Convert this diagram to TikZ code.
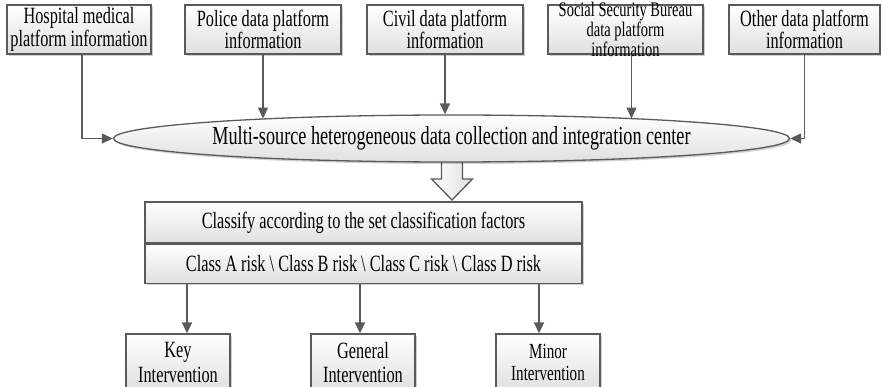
\documentclass[tikz,border=0pt]{standalone}
\usepackage{fontspec}
\usepackage{tikz}
\usetikzlibrary{arrows.meta, shapes.geometric, positioning, shadows}
\newfontfamily\diagfont[FakeStretch=0.7]{Liberation Serif}
\definecolor{boxline}{RGB}{90, 90, 90}
\definecolor{boxshade}{RGB}{224, 224, 224}

\begin{document}
\begin{tikzpicture}[x=1pt, y=1pt,
    infobox/.style={draw=boxline, line width=1.3pt, top color=white, bottom color=boxshade,
      drop shadow={shadow xshift=2pt, shadow yshift=-2pt, fill=black, opacity=0.18},
      align=center, inner sep=2pt, font=\diagfont\fontsize{23.3}{20}\selectfont},
    flow/.style={draw=boxline, line width=1.5pt, -{Triangle[length=11pt, width=10pt]}}]
  \clip (0,0) rectangle (881,-387);
  % data platforms
  \node[infobox, minimum width=144, minimum height=49] (hosp) at (79,-29.5) {Hospital medical\\platform information};
  \node[infobox, minimum width=156, minimum height=49] (police) at (263,-29.5) {Police data platform\\information};
  \node[infobox, minimum width=156, minimum height=49] (civil) at (445,-29.5) {Civil data platform\\information};
  \node[infobox, minimum width=155, minimum height=49] (social) at (625.5,-29.5) {};
  \node[align=center, font=\diagfont\fontsize{20.7}{17.5}\selectfont] (socialtext) at (social) {Social Security Bureau\\data platform\\information};
  \node[infobox, minimum width=151, minimum height=49] (other) at (804.5,-29.5) {Other data platform\\information};
  % hollow arrow below the center
  \draw[boxline, line width=1.3pt, left color=white, right color=boxshade]
    (441.5,-160) -- (441.5,-179) -- (431.5,-179) -- (452,-200) -- (472.5,-179) -- (462.5,-179) -- (462.5,-160) -- cycle;
  % collection center
  \node[ellipse, draw=boxline, line width=1.3pt, top color=white, bottom color=boxshade, inner sep=0,
    drop shadow={shadow xshift=2pt, shadow yshift=-2pt, fill=black, opacity=0.18},
    minimum width=587, minimum height=47, font=\diagfont\fontsize{26}{26}\selectfont] (hub) at (451.5,-138.5)
    {Multi-source heterogeneous data collection and integration center};
  \draw[flow] ([xshift=3pt]hosp.south) |- (hub.west);
  \draw[flow] (police.south) -- (police.south |- hub.174);
  \draw[flow] (civil.south) -- (civil.south |- hub.north);
  \draw[flow] ([xshift=6pt]social.south) -- ([xshift=6pt]social.south |- hub.6);
  \draw[flow] (other.south) |- (hub.east);
  % classification
  \node[infobox, minimum width=437, minimum height=41] (classify) at (363.5,-222.5) {Classify according to the set classification factors};
  \node[infobox, minimum width=437, minimum height=39, below=0pt of classify] (risk) {Class A risk \textbackslash{} Class B risk \textbackslash{} Class C risk \textbackslash{} Class D risk};
  % interventions
  \node[infobox, minimum width=104, minimum height=57, font=\diagfont\fontsize{23.3}{24.5}\selectfont] (key) at (178,-362.5) {Key\\Intervention};
  \node[infobox, minimum width=104, minimum height=57, font=\diagfont\fontsize{23.3}{24.5}\selectfont] (general) at (363,-362.5) {General\\Intervention};
  \node[infobox, minimum width=104, minimum height=57, font=\diagfont\fontsize{21.5}{22}\selectfont] (minor) at (548,-362.5) {Minor\\Intervention};
  \draw[flow] ([xshift=9pt]key.north |- risk.south) -- ([xshift=9pt]key.north);
  \draw[flow] ([xshift=-3pt]general.north |- risk.south) -- ([xshift=-3pt]general.north);
  \draw[flow] ([xshift=-9pt]minor.north |- risk.south) -- ([xshift=-9pt]minor.north);
\end{tikzpicture}
\end{document}
